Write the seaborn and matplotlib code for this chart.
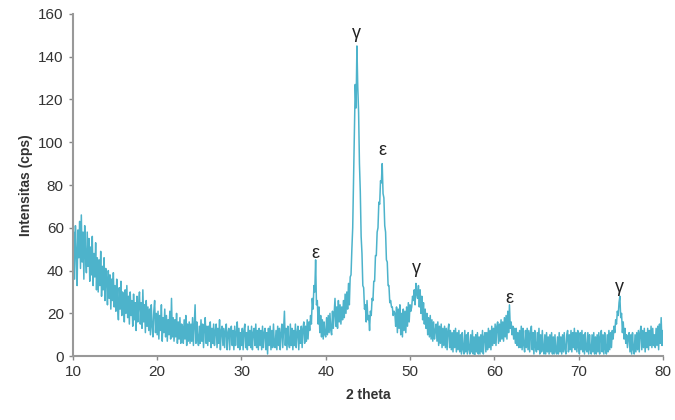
import numpy as np
import pandas as pd
import seaborn as sns
import matplotlib.pyplot as plt

# XRD pattern, one row per degree, 0.1 deg step
start_2theta = 10.0
step_2theta = 0.1
intensity = [
    44, 58, 36, 61, 49, 33, 59, 46, 63, 41,   # 10
    66, 44, 58, 36, 61, 47, 39, 58, 42, 55,   # 11
    35, 51, 38, 56, 33, 48, 37, 53, 31, 46,   # 12
    30, 45, 33, 49, 28, 42, 31, 46, 26, 41,   # 13
    35, 24, 40, 27, 38, 22, 36, 26, 39, 23,   # 14
    33, 21, 36, 24, 17, 32, 22, 35, 19, 30,   # 15
    28, 16, 31, 20, 33, 18, 28, 15, 30, 19,   # 16
    26, 14, 29, 17, 25, 12, 28, 16, 24, 30,   # 17
    15, 25, 13, 31, 16, 24, 11, 26, 14, 23,   # 18
    12, 22, 10, 24, 14, 9, 21, 26, 11, 20,    # 19
    10, 21, 8, 19, 12, 24, 7, 18, 11, 22,     # 20
    9, 19, 7, 17, 10, 21, 8, 27, 9, 18,       # 21
    7, 17, 9, 20, 6, 16, 8, 18, 6, 15,        # 22
    14, 6, 17, 8, 19, 5, 15, 7, 16, 6,        # 23
    15, 7, 18, 5, 14, 24, 6, 16, 8, 5,        # 24
    14, 6, 17, 7, 15, 4, 13, 18, 6, 14,       # 25
    5, 14, 7, 16, 4, 13, 6, 15, 5, 12,        # 26
    15, 4, 13, 6, 17, 3, 12, 14, 5, 13,       # 27
    4, 12, 15, 3, 11, 13, 3, 12, 14, 5,       # 28
    12, 3, 14, 5, 11, 16, 4, 13, 3, 11,       # 29
    5, 13, 3, 12, 15, 4, 11, 3, 14, 5,        # 30
    12, 4, 14, 3, 11, 13, 5, 15, 4, 12,       # 31
    3, 13, 5, 12, 3, 14, 4, 11, 13, 3,        # 32
    11, 1, 13, 5, 14, 3, 12, 4, 15, 5,        # 33
    4, 12, 3, 14, 5, 13, 3, 11, 15, 4,        # 34
    12, 21, 5, 13, 3, 14, 6, 4, 15, 5,        # 35
    13, 3, 12, 5, 15, 4, 11, 14, 3, 12,       # 36
    6, 14, 4, 13, 16, 6, 14, 7, 17, 8,        # 37
    16, 12, 19, 15, 27, 22, 33, 30, 45, 24,   # 38
    26, 15, 23, 11, 19, 9, 17, 8, 16, 10,     # 39
    9, 18, 10, 19, 11, 20, 12, 10, 21, 13,    # 40
    20, 27, 14, 23, 13, 26, 16, 24, 15, 23,   # 41
    17, 26, 18, 29, 20, 30, 22, 34, 24, 37,   # 42
    38, 50, 60, 82, 103, 127, 116, 145, 126, 114,  # 43
    90, 77, 56, 48, 33, 32, 22, 24, 16, 26,   # 44
    17, 19, 12, 21, 19, 27, 26, 35, 35, 47,   # 45
    47, 58, 60, 72, 71, 82, 81, 90, 76, 74,   # 46
    61, 58, 45, 44, 33, 33, 25, 26, 23, 23,   # 47
    19, 21, 20, 14, 23, 11, 22, 13, 24, 10,   # 48
    20, 9, 22, 12, 21, 11, 23, 14, 25, 16,    # 49
    24, 21, 23, 28, 26, 31, 24, 34, 29, 27,   # 50
    33, 23, 31, 20, 28, 17, 25, 15, 22, 13,   # 51
    20, 10, 18, 9, 19, 8, 17, 7, 16, 8,       # 52
    12, 15, 7, 16, 5, 14, 6, 15, 4, 13,       # 53
    5, 14, 4, 13, 3, 12, 15, 4, 12, 3,        # 54
    11, 2, 12, 4, 13, 2, 11, 3, 12, 2,        # 55
    10, 1, 11, 3, 1, 12, 2, 10, 1, 11,        # 56
    3, 1, 10, 2, 12, 1, 9, 0, 10, 2,          # 57
    11, 1, 9, 1, 10, 2, 12, 1, 9, 11,         # 58
    2, 11, 3, 13, 4, 12, 3, 14, 5, 13,        # 59
    6, 15, 5, 14, 16, 6, 15, 7, 17, 8,        # 60
    16, 7, 18, 9, 19, 8, 21, 11, 24, 13,      # 61
    16, 10, 14, 8, 13, 6, 13, 5, 11, 4,       # 62
    12, 4, 14, 3, 13, 5, 2, 12, 4, 13,        # 63
    3, 12, 2, 11, 14, 3, 11, 1, 12, 4,        # 64
    2, 11, 3, 13, 1, 10, 2, 12, 3, 1,         # 65
    10, 1, 11, 2, 9, 1, 10, 2, 11, 1,         # 66
    9, 1, 10, 2, 1, 9, 1, 11, 2, 9,           # 67
    1, 10, 2, 11, 3, 1, 10, 12, 2, 10,        # 68
    3, 12, 2, 11, 4, 13, 3, 11, 2, 12,        # 69
    4, 1, 11, 3, 12, 2, 10, 1, 11, 3,         # 70
    2, 11, 1, 10, 3, 1, 10, 2, 11, 1,         # 71
    9, 1, 10, 2, 11, 1, 9, 12, 2, 10,         # 72
    1, 11, 3, 1, 10, 2, 12, 3, 11, 4,         # 73
    12, 8, 14, 11, 17, 15, 21, 19, 25, 28,    # 74
    18, 20, 11, 16, 8, 13, 6, 10, 4, 9,       # 75
    11, 2, 10, 1, 11, 3, 1, 10, 2, 11,        # 76
    3, 12, 2, 11, 14, 3, 12, 4, 13, 2,        # 77
    11, 4, 13, 3, 12, 5, 14, 4, 13, 5,        # 78
    10, 4, 13, 5, 14, 3, 15, 6, 18, 5,        # 79
    12,                                       # 80
]

# phase labels over the peaks
peak_labels = ["ε", "γ", "ε", "γ", "ε", "γ"]
peak_x = [38.8, 43.7, 46.7, 50.8, 61.8, 74.9]
peak_y = [48, 151, 96, 41, 27, 32]

two_theta = start_2theta + step_2theta * np.arange(len(intensity))
df = pd.DataFrame({"2 theta": two_theta, "intensitas": intensity})

sns.set_theme(style="ticks")
plt.rcParams["font.family"] = ["Liberation Sans", "DejaVu Sans"]

fig, ax = plt.subplots(figsize=(6.75, 4.2), dpi=100)
fig.subplots_adjust(left=0.108, right=0.982, bottom=0.152, top=0.967)

sns.lineplot(data=df, x="2 theta", y="intensitas", ax=ax,
             color="#4db3cb", linewidth=1.1)

for lab, px, py in zip(peak_labels, peak_x, peak_y):
    ax.text(px, py, lab, ha="center", va="center", fontsize=13, color="#222222")

ax.set_xlim(10, 80)
ax.set_ylim(0, 160)
ax.set_xticks(range(10, 81, 10))
ax.set_yticks(range(0, 161, 20))
ax.set_xlabel("2 theta", fontsize=10, fontweight="bold", color="#333333", labelpad=6)
ax.set_ylabel("Intensitas (cps)", fontsize=10, fontweight="bold", color="#333333", labelpad=4)
ax.tick_params(axis="both", labelsize=11, colors="#888888", labelcolor="#333333",
               length=3, width=1, direction="out")
sns.despine(ax=ax)
for s in ["left", "bottom"]:
    ax.spines[s].set_color("#999999")
    ax.spines[s].set_linewidth(1.5)

fig.savefig("out.png", dpi=100)
